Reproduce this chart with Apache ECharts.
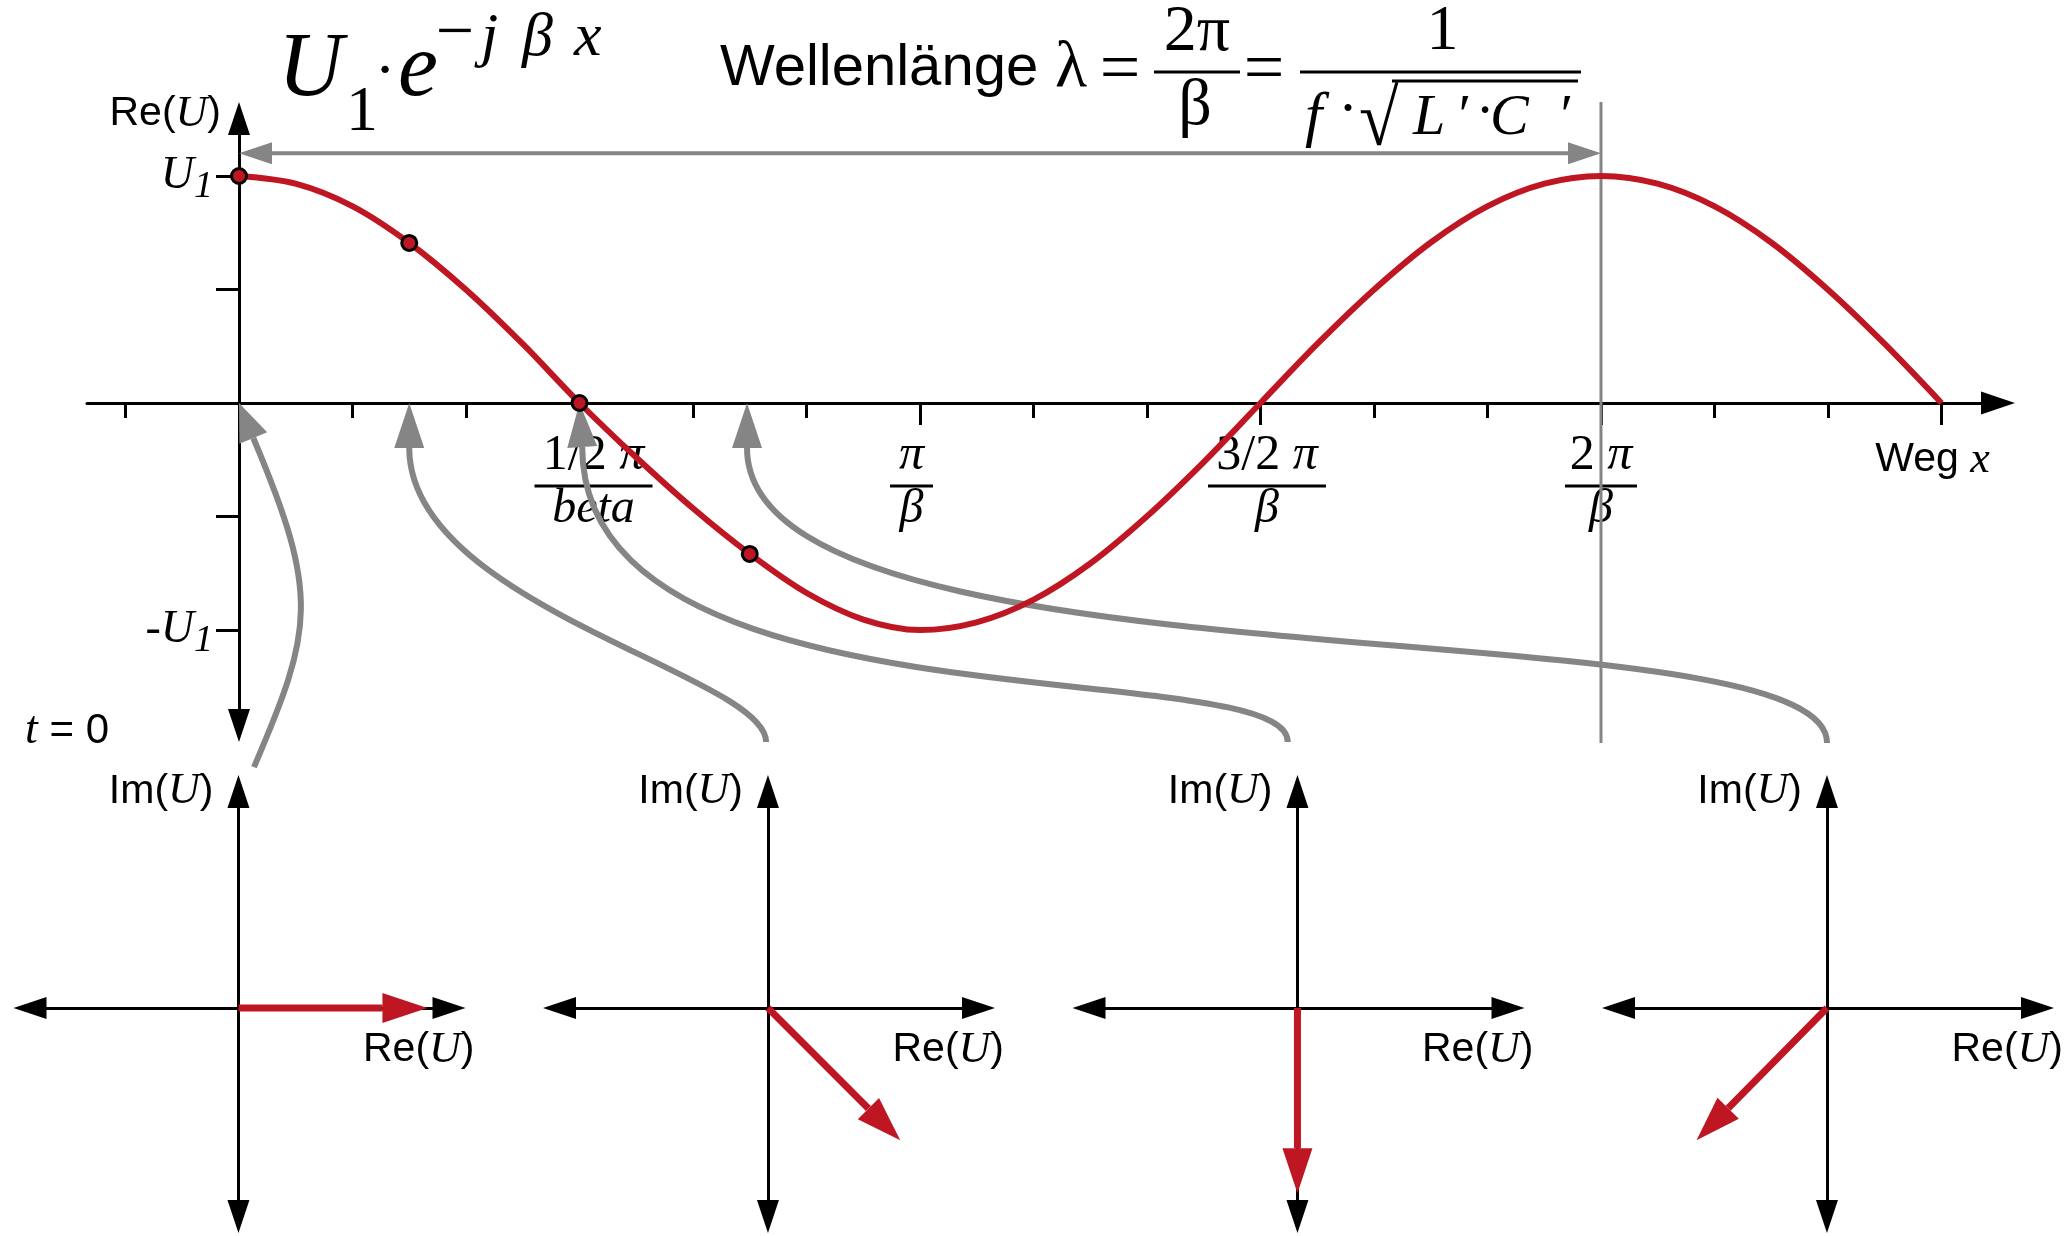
<!DOCTYPE html>
<html>
<head>
<meta charset="utf-8">
<title>Wellenlänge und Zeigerdarstellung</title>
<script src="https://cdn.jsdelivr.net/npm/echarts@6.0.0/dist/echarts.min.js"></script>
<style>
html, body { margin: 0; padding: 0; background: #ffffff; }
#chart { width: 2072px; height: 1236px; }
</style>
</head>
<body>
<div id="chart"></div>
<script>
// ---------------------------------------------------------------- data
// Re{U(x)} at t = 0 along the line; x in multiples of pi/beta, value in units of U1
const waveX = [0, 0.083, 0.167, 0.25, 0.333, 0.417, 0.5, 0.583, 0.667, 0.75, 0.833, 0.917,
               1, 1.083, 1.167, 1.25, 1.333, 1.417, 1.5, 1.583, 1.667, 1.75, 1.833, 1.917,
               2, 2.083, 2.167, 2.25, 2.333, 2.417, 2.5];
const waveY = [1.000, 0.966, 0.866, 0.705, 0.500, 0.259, 0.000, -0.239, -0.465, -0.665, -0.836, -0.954,
               -1.000, -0.966, -0.866, -0.707, -0.500, -0.259, 0.000, 0.259, 0.500, 0.707, 0.866, 0.966,
               1.000, 0.966, 0.866, 0.707, 0.500, 0.259, 0.000];

// the four marked positions on the line and their values
const sampleX = [0, 0.25, 0.5, 0.75];
const sampleY = [1.00, 0.705, 0.00, -0.665];

// phasor U1·e^(-jβx) belonging to each marked position
const phasorRe = [1.00, 0.70, 0.00, -0.69];
const phasorIm = [0.00, -0.70, -0.98, -0.70];

// ticks of the wave diagram
const minorTickX = [-1/6, 1/6, 1/3, 2/3, 5/6, 7/6, 4/3, 5/3, 11/6, 13/6, 7/3];
const majorTickX = [0.5, 1, 1.5, 2, 2.5];
const tickY = [1, 0.5, -0.5, -1];
const labelY = [1, -1];

// tick labels of the x axis: numerator / denominator (null = axis caption)
const labelX = [0.5, 1, 1.5, 2, 2.5];
const labelNum = ['1/2 ', '', '3/2 ', '2 ', null];
const labelDen = ['beta', 'β', 'β', 'β', null];

// one wavelength as a dimension arrow, plus its guide line at x = 2π/β
const lambdaSpan = [0, 2];
const lambdaLevel = 1.10;
const lambdaGuide = [1.326, -1.498];

// connectors from each phasor diagram up to its position on the line
// (wave-diagram units): start, control 1, control 2, arrow base, arrow tip
const connectors = [
  [[0.022, -1.604], [0.109, -0.996], [0.119, -0.850], [0.021, -0.154], [0.000, 0]],
  [[0.774, -1.493], [0.774, -1.198], [0.250, -0.894], [0.250, -0.198], [0.250, 0]],
  [[1.540, -1.493], [1.540, -1.097], [0.504, -1.476], [0.504, -0.194], [0.500, 0]],
  [[2.332, -1.498], [2.332, -0.868], [0.746, -1.308], [0.746, -0.198], [0.746, 0]]
];

// ---------------------------------------------------------------- style & layout
const INK = '#000000';
const RED = '#be1622';
const GRAY = '#858585';
const SERIF = '"Liberation Serif", "Times New Roman", serif';
const SANS = '"Liberation Sans", Arial, sans-serif';

const labelBar = [118, 43, 118, 72, 0];      // width of the fraction bars
const labelShift = [14, -8.5, 6.5, 0, -9];   // horizontal nudge of each x label
const labelMargin = 25;

const phasorCenters = [238.5, 768, 1297.5, 1827];

const nameRich = {
  a: { fontFamily: SANS, fontSize: 41, color: INK },
  u: { fontFamily: SERIF, fontStyle: 'italic', fontSize: 44, color: INK }
};

function richStyle(o) { o.fill = INK; o.color = INK; return o; }
const xRich = {
  n:  richStyle({ fontFamily: SERIF, fontSize: 50, lineHeight: 56, align: 'center' }),
  ni: richStyle({ fontFamily: SERIF, fontStyle: 'italic', fontSize: 50, lineHeight: 56, align: 'center' }),
  d:  richStyle({ fontFamily: SERIF, fontStyle: 'italic', fontSize: 48, lineHeight: 42, align: 'center' }),
  w:  richStyle({ fontFamily: SANS, fontSize: 41, lineHeight: 64, align: 'center' }),
  wx: richStyle({ fontFamily: SERIF, fontStyle: 'italic', fontSize: 44, lineHeight: 64, align: 'center' })
};
labelBar.forEach(function (w, i) {
  xRich['b' + i] = { width: w, height: 0, lineHeight: 4, borderColor: INK, borderWidth: 3, align: 'center' };
});
const yRich = {
  u: richStyle({ fontFamily: SERIF, fontStyle: 'italic', fontSize: 46 }),
  s: richStyle({ fontFamily: SERIF, fontStyle: 'italic', fontSize: 38, padding: [22, 0, 0, 0] })
};

function xLabelText(i) {
  if (labelDen[i] == null) return '{w|Weg }{wx|x}';
  const num = (labelNum[i] ? '{n|' + labelNum[i] + '}' : '') + '{ni|π}';
  return num + '\n{b' + i + '|}\n{d|' + labelDen[i] + '}';
}

function headPolygon(tip, base, width, color) {
  const dx = tip[0] - base[0], dy = tip[1] - base[1];
  const len = Math.hypot(dx, dy) || 1;
  const nx = -dy / len * width / 2, ny = dx / len * width / 2;
  return {
    type: 'polygon',
    shape: { points: [tip, [base[0] + nx, base[1] + ny], [base[0] - nx, base[1] - ny]] },
    style: { fill: color }
  };
}

// ---------------------------------------------------------------- axes & grids
const grids = [{ left: 87, top: 118.5, width: 1911, height: 607, containLabel: false, outerBoundsMode: 'none' }];
const xAxes = [
  { // line, arrow and minor ticks
    gridIndex: 0, type: 'value', min: -0.2232, max: 2.583, position: 'bottom',
    axisLine: { show: true, onZero: true, onZeroAxisIndex: 0, symbol: ['none', 'triangle'], symbolSize: [23, 34],
                lineStyle: { color: INK, width: 3 } },
    axisTick: { show: true, customValues: minorTickX, length: 15, lineStyle: { color: INK, width: 3 } },
    axisLabel: { show: false }, splitLine: { show: false }
  },
  { // major ticks
    gridIndex: 0, type: 'value', min: -0.2232, max: 2.583, position: 'bottom',
    axisLine: { show: false, onZero: true, onZeroAxisIndex: 0 },
    axisTick: { show: true, customValues: majorTickX, length: 22, lineStyle: { color: INK, width: 3 } },
    axisLabel: { show: false }, splitLine: { show: false }
  }
];
const yAxes = [{
  gridIndex: 0, type: 'value', min: -1.4207, max: 1.2533,
  axisLine: { show: true, onZero: true, onZeroAxisIndex: 0, symbol: ['triangle', 'triangle'], symbolSize: [22, 33],
              lineStyle: { color: INK, width: 3 } },
  axisTick: { show: true, customValues: tickY, length: 23, lineStyle: { color: INK, width: 3 } },
  axisLabel: { show: false },
  splitLine: { show: false },
  name: '{a|Re(}{u|U}{a|)}', nameLocation: 'end', nameGap: 4.5,
  nameTextStyle: { align: 'right', verticalAlign: 'middle', padding: [0, 18, 0, 0], rich: nameRich }
}];

phasorCenters.forEach(function (c, k) {
  grids.push({ left: c - 208.5, top: 791.5, width: 419, height: 425, containLabel: false, outerBoundsMode: 'none' });
  xAxes.push({
    gridIndex: k + 1, type: 'value', min: -1.103, max: 1.114,
    axisLine: { show: true, onZero: true, symbol: ['triangle', 'triangle'], symbolSize: [22, 33],
                lineStyle: { color: INK, width: 3 } },
    axisTick: { show: false }, axisLabel: { show: false }, splitLine: { show: false },
    name: '{a|Re(}{u|U}{a|)}', nameLocation: 'end', nameGap: 25.5,
    nameTextStyle: { align: 'right', verticalAlign: 'middle', padding: [84, 0, 0, 0], rich: nameRich }
  });
  yAxes.push({
    gridIndex: k + 1, type: 'value', min: -1.103, max: 1.146,
    axisLine: { show: true, onZero: true, symbol: ['triangle', 'triangle'], symbolSize: [22, 33],
                lineStyle: { color: INK, width: 3 } },
    axisTick: { show: false }, axisLabel: { show: false }, splitLine: { show: false },
    name: '{a|Im(}{u|U}{a|)}', nameLocation: 'end', nameGap: 0,
    nameTextStyle: { align: 'right', verticalAlign: 'middle', padding: [0, 25, 0, 0], rich: nameRich }
  });
});

// ---------------------------------------------------------------- series
const series = [
  { // tick labels along the x axis, anchored on the zero line
    type: 'custom', coordinateSystem: 'cartesian2d', xAxisIndex: 0, yAxisIndex: 0, z: 1, clip: false, silent: true,
    data: labelX.map(function (v) { return [v, 0]; }),
    renderItem: function (params, api) {
      const i = params.dataIndex;
      const p = api.coord([api.value(0), api.value(1)]);
      return {
        type: 'text', x: p[0] + labelShift[i], y: p[1] + labelMargin,
        style: { text: xLabelText(i), rich: xRich, fill: INK,
                 align: 'center', verticalAlign: 'top', textAlign: 'center', textVerticalAlign: 'top' }
      };
    }
  },
  { // U1 / -U1 labels beside the value axis
    type: 'custom', coordinateSystem: 'cartesian2d', xAxisIndex: 0, yAxisIndex: 0, z: 1, clip: false, silent: true,
    data: labelY.map(function (v) { return [0, v]; }),
    renderItem: function (params, api) {
      const v = api.value(1);
      const p = api.coord([api.value(0), v]);
      return {
        type: 'text', x: p[0] - 26, y: p[1],
        style: { text: (v > 0 ? '{u|U}' : '{u|-U}') + '{s|1}', rich: yRich, fill: INK,
                 align: 'right', verticalAlign: 'middle', textAlign: 'right', textVerticalAlign: 'middle' }
      };
    }
  },
  { // gray connectors between phasor diagrams and the line
    type: 'custom', coordinateSystem: 'cartesian2d', xAxisIndex: 0, yAxisIndex: 0, z: 2, clip: false, silent: true,
    data: connectors.map(function (c) { return c[4]; }),
    renderItem: function (params, api) {
      const p = connectors[params.dataIndex].map(function (q) { return api.coord(q); });
      return {
        type: 'group',
        children: [
          { type: 'bezierCurve',
            shape: { x1: p[0][0], y1: p[0][1], cpx1: p[1][0], cpy1: p[1][1], cpx2: p[2][0], cpy2: p[2][1], x2: p[3][0], y2: p[3][1] },
            style: { stroke: GRAY, lineWidth: 6, fill: null } },
          headPolygon(p[4], p[3], 30, GRAY)
        ]
      };
    }
  },
  { // wavelength dimension arrow and guide line
    type: 'custom', coordinateSystem: 'cartesian2d', xAxisIndex: 0, yAxisIndex: 0, z: 2, clip: false, silent: true,
    data: [[lambdaSpan[1], lambdaLevel]],
    renderItem: function (params, api) {
      const a = api.coord([lambdaSpan[0], lambdaLevel]);
      const b = api.coord([lambdaSpan[1], lambdaLevel]);
      const g1 = api.coord([lambdaSpan[1], lambdaGuide[0]]);
      const g2 = api.coord([lambdaSpan[1], lambdaGuide[1]]);
      const aB = [a[0] + 33, a[1]], bB = [b[0] - 33, b[1]];
      return {
        type: 'group',
        children: [
          { type: 'line', shape: { x1: g1[0], y1: g1[1], x2: g2[0], y2: g2[1] }, style: { stroke: GRAY, lineWidth: 3 } },
          { type: 'line', shape: { x1: aB[0], y1: aB[1], x2: bB[0], y2: bB[1] }, style: { stroke: GRAY, lineWidth: 4 } },
          headPolygon(a, aB, 22, GRAY),
          headPolygon(b, bB, 22, GRAY)
        ]
      };
    }
  },
  { // the wave
    type: 'line', xAxisIndex: 0, yAxisIndex: 0, z: 3, clip: false, silent: true,
    data: waveX.map(function (x, i) { return [x, waveY[i]]; }),
    smooth: 0.33, showSymbol: false, symbol: 'none',
    lineStyle: { color: RED, width: 6 }
  },
  { // marked positions
    type: 'scatter', xAxisIndex: 0, yAxisIndex: 0, z: 4, silent: true,
    data: sampleX.map(function (x, i) { return [x, sampleY[i]]; }),
    symbol: 'circle', symbolSize: 15,
    itemStyle: { color: RED, borderColor: INK, borderWidth: 3, opacity: 1 }
  }
];

phasorCenters.forEach(function (c, k) {
  series.push({
    type: 'custom', coordinateSystem: 'cartesian2d', xAxisIndex: k + 2, yAxisIndex: k + 1, z: 5, clip: false, silent: true,
    data: [[phasorRe[k], phasorIm[k]]],
    renderItem: function (params, api) {
      const o = api.coord([0, 0]);
      const t = api.coord([api.value(0), api.value(1)]);
      const dx = t[0] - o[0], dy = t[1] - o[1], L = Math.hypot(dx, dy) || 1;
      const base = [t[0] - dx / L * 45, t[1] - dy / L * 45];
      return {
        type: 'group',
        children: [
          { type: 'line', shape: { x1: o[0], y1: o[1], x2: base[0], y2: base[1] }, style: { stroke: RED, lineWidth: 7 } },
          headPolygon(t, base, 30, RED)
        ]
      };
    }
  });
});

// ---------------------------------------------------------------- formulas
function txt(text, x, y, font, align, extra) {
  const al = align || 'left';
  const el = {
    type: 'text', x: x, y: y, silent: true,
    style: { text: text, font: font, fill: INK, align: al, verticalAlign: 'middle', textAlign: al, textVerticalAlign: 'middle' }
  };
  if (extra) Object.assign(el, extra);
  return el;
}
function bar(x1, x2, y, w) {
  return { type: 'line', silent: true, shape: { x1: x1, y1: y, x2: x2, y2: y }, style: { stroke: INK, lineWidth: w || 3 } };
}
const it = function (px) { return 'italic ' + px + 'px ' + SERIF; };
const rm = function (px) { return px + 'px ' + SERIF; };

const graphics = [
  // U1 · e^(-jβx)
  txt('U', 278, 71, it(90)),
  txt('1', 346, 113, rm(64)),
  txt('·', 385, 74, rm(62), 'center'),
  txt('e', 398, 71, it(90)),
  txt('−', 455, 35, rm(68), 'center'),
  txt('j', 481, 39, it(62)),
  txt('β', 522, 39, it(62)),
  txt('x', 574, 39, it(62)),
  // Wellenlänge λ = 2π/β = 1/(f·√(L'·C'))
  txt('Wellenlänge', 720, 69, '58px ' + SANS),
  txt('λ', 1055, 69, rm(66)),
  txt('=', 1120, 72, rm(72), 'center'),
  txt('2π', 1197, 33, rm(66), 'center'),
  bar(1154, 1240, 72),
  txt('β', 1195, 107, rm(66), 'center'),
  txt('=', 1264, 72, rm(72), 'center'),
  txt('1', 1442.5, 32, rm(64), 'center'),
  bar(1300, 1581, 72),
  txt('f', 1305, 119, it(62)),
  txt('·', 1348, 111, rm(60), 'center'),
  txt('√', 1359, 124, rm(72), 'left', { scaleY: 1.1 }),
  bar(1392, 1578, 81),
  txt('L', 1413, 119, it(58)),
  txt('′', 1455, 119, it(58)),
  txt('·', 1485, 114, rm(56), 'center'),
  txt('C', 1490, 119, it(58)),
  txt('′', 1557, 119, it(58)),
  // time instant
  {
    type: 'text', x: 25, y: 731, silent: true,
    style: {
      text: '{t|t}{a| = 0}', align: 'left', verticalAlign: 'middle', textAlign: 'left', textVerticalAlign: 'middle',
      rich: {
        t: { fontFamily: SERIF, fontStyle: 'italic', fontSize: 46, fill: INK, color: INK },
        a: { fontFamily: SANS, fontSize: 42, fill: INK, color: INK }
      }
    }
  }
];

// ---------------------------------------------------------------- chart
const chart = echarts.init(document.getElementById('chart'), null, { renderer: 'canvas', width: 2072, height: 1236 });
chart.setOption({
  animation: false,
  backgroundColor: '#ffffff',
  grid: grids,
  xAxis: xAxes,
  yAxis: yAxes,
  series: series,
  graphic: { elements: graphics }
});
</script>
</body>
</html>
